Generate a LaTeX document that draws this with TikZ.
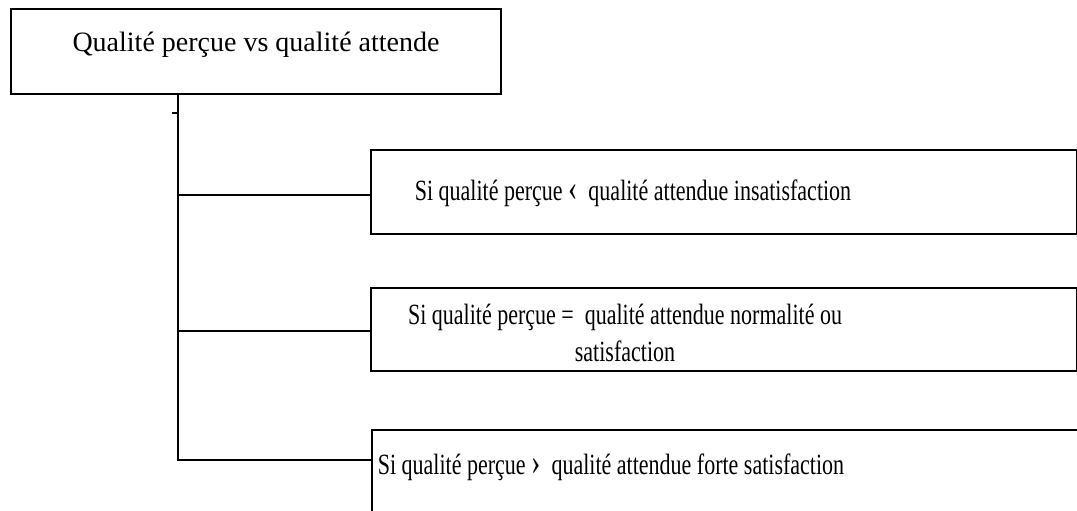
\documentclass[tikz,border=0pt]{standalone}
\usepackage{fontspec}
\setmainfont{Liberation Serif}
\newfontfamily\condfont[FakeStretch=0.75]{Liberation Serif}
\newcommand{\bigchev}[1]{{\fontsize{28}{28}\selectfont #1}}
\begin{document}
\begin{tikzpicture}[x=0.75pt,y=-0.75pt,
  box/.style={draw,line width=1.4pt,anchor=north west,inner sep=0pt},
  conn/.style={draw,line width=1.4pt},
  toptext/.style={font=\fontsize{21}{25}\selectfont,inner sep=0pt},
  lowtext/.style={font=\condfont\fontsize{22}{27.75}\selectfont,inner sep=0pt,align=center}]
\useasboundingbox (0,0) rectangle (1077,510);
\clip (0,0) rectangle (1077,510);
\node[box,minimum width=490*0.75pt,minimum height=85*0.75pt] (top) at (10,8) {};
\node[toptext] (toplabel) at (256,45) {Qualité perçue vs qualité attende};
\node[box,minimum width=706*0.75pt,minimum height=84*0.75pt] (b1) at (370,149) {};
\node[lowtext] (l1) at (633,193) {Si qualité perçue \bigchev{‹}\ \ qualité attendue insatisfaction};
\node[box,minimum width=706*0.75pt,minimum height=83*0.75pt] (b2) at (370,287) {};
\node[lowtext] (l2) at (625,333) {Si qualité perçue =\ \ qualité attendue normalité ou\\satisfaction};
\node[box,minimum width=760*0.75pt,minimum height=120*0.75pt] (b3) at (371,429) {};
\node[lowtext] (l3) at (611,467) {Si qualité perçue \bigchev{›}\ \ qualité attendue forte satisfaction};
\coordinate (trunktop) at (178,93);
\coordinate (trunkbot) at (178,460);
\coordinate (tick) at (172,113);
\coordinate (tickend) at (178,113);
\coordinate (j1) at (178,195);
\coordinate (j2) at (178,331);
\draw[conn] (trunktop) -- (trunkbot) -- (b3.west |- trunkbot);
\draw[conn] (tick) -- (tickend);
\draw[conn] (j1) -- (b1.west |- j1);
\draw[conn] (j2) -- (b2.west |- j2);
\end{tikzpicture}
\end{document}
